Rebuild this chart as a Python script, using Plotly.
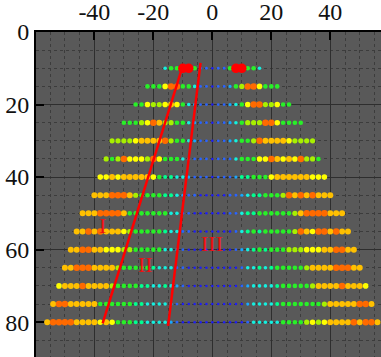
import plotly.graph_objects as go

# ---- data ----
ROW_Y = [10, 15, 20, 25, 30, 35, 40, 45, 50, 55, 60, 65, 70, 75, 80]
ROW_HALF_WIDTH = [16, 22, 26, 30, 34, 36, 38, 40, 44, 46, 48, 50, 52, 54, 56]
X_STEP = 2

# value level per point (0 = dark blue ... 10 = red), left to right
ROW_VALUES = [
    [3,5,5,10,10,5,1,1,0,1,1,5,10,10,5,5,3],
    [5,5,5,7,9,9,5,5,3,1,1,0,1,1,2,5,6,9,9,7,5,5,5],
    [5,5,7,6,6,7,8,7,5,3,2,1,1,0,1,1,2,3,5,7,9,9,6,6,7,5,5],
    [5,5,5,6,7,9,8,6,6,5,5,3,2,1,1,0,1,1,2,3,5,6,6,6,9,9,7,5,5,5,5],
    [6,6,6,6,7,8,8,8,8,9,6,5,5,3,2,1,1,0,1,1,2,3,5,5,6,9,8,8,8,8,7,6,6,6,6],
    [6,5,6,9,7,7,7,6,9,7,5,5,5,3,2,1,1,1,0,1,1,1,3,5,5,5,7,7,9,8,7,8,7,9,6,6,5],
    [7,7,8,7,8,8,8,8,8,7,5,4,4,3,3,2,1,1,1,0,1,1,1,2,4,4,5,5,5,7,8,8,8,8,8,8,7,7,7],
    [8,8,8,9,9,9,8,6,5,5,5,5,4,4,3,2,1,1,0,0,0,0,0,1,1,2,3,4,4,5,5,5,6,9,8,9,8,9,8,8,8],
    [8,8,8,9,9,9,9,8,5,5,5,5,5,5,5,3,3,1,1,0,0,0,0,0,0,1,1,3,4,4,5,5,5,5,5,5,6,8,9,9,9,9,8,8,8],
    [8,8,9,8,9,8,8,8,7,6,5,5,5,5,5,4,3,3,1,1,0,0,0,0,0,0,0,1,3,4,5,4,5,5,5,5,5,6,9,8,7,9,9,8,9,8,8],
    [8,8,9,9,8,8,7,7,7,6,6,5,5,5,5,5,3,3,2,1,0,0,0,0,0,0,0,0,1,2,3,4,5,4,5,5,5,6,6,6,7,7,7,8,8,9,9,8,8],
    [8,8,9,9,9,8,8,8,8,6,5,5,5,5,5,4,3,3,3,1,1,0,0,0,0,0,0,0,0,0,1,3,3,4,3,4,5,5,5,5,5,6,8,8,8,8,9,9,9,8,8],
    [7,8,8,8,9,8,8,8,8,6,5,5,5,5,4,4,3,3,4,3,2,1,0,0,0,0,0,0,0,0,0,1,2,3,3,3,3,4,5,5,5,5,5,6,8,8,8,8,9,8,8,8,7],
    [8,9,9,8,8,8,8,8,5,5,5,5,5,5,4,4,3,3,3,3,2,1,0,0,0,0,0,0,0,0,0,0,0,2,3,3,3,3,4,5,5,5,5,5,5,5,6,8,8,8,8,8,9,9,8],
    [8,9,9,9,9,8,8,8,8,7,8,7,5,5,5,4,4,3,3,3,3,2,1,0,0,0,0,0,0,0,0,0,0,0,1,3,3,3,3,3,5,5,5,5,6,7,6,7,8,8,8,8,9,8,9,9,8],
]

LINE_I_X = [-10.3, -37.2]
LINE_I_Y = [10, 80.3]
LINE_II_X = [-4.0, -15.0]
LINE_II_Y = [8.5, 81.0]

LABEL_TEXT = ["I", "II", "III"]
LABEL_X = [-37.2, -22.7, 0.0]
LABEL_Y = [53.4, 64.2, 58.2]

X_TICKS = [-40, -20, 0, 20, 40]
X_TICK_TEXT = ["-40", "-20", "0", "20", "40"]
Y_TICKS = [0, 20, 40, 60, 80]
Y_TICK_TEXT = ["0", "20", "40", "60", "80"]

# ---- styles ----
LEVEL_COLORS = ["#1e1ef5", "#2a64ff", "#18a8ff", "#14f0e0", "#00ff90", "#28f028",
                "#a8f000", "#ffff00", "#ffc000", "#ff6a00", "#ff0000"]
LEVEL_SIZES = [2.5, 2.8, 3.2, 3.6, 4.0, 4.6, 5.2, 5.6, 6.0, 6.5, 9.5]
SERIF = "Times New Roman, Liberation Serif, serif"

pts = []
for y, hw, vals in zip(ROW_Y, ROW_HALF_WIDTH, ROW_VALUES):
    xs = list(range(-hw, hw + 1, X_STEP))
    for x, v in zip(xs, vals):
        pts.append((v, x, y))
pts.sort(key=lambda p: p[0])

fig = go.Figure()
fig.add_trace(go.Scatter(
    x=[p[1] for p in pts], y=[p[2] for p in pts], mode="markers",
    marker=dict(color=[LEVEL_COLORS[p[0]] for p in pts],
                size=[LEVEL_SIZES[p[0]] for p in pts],
                opacity=1, line=dict(width=0)),
    hoverinfo="skip", showlegend=False))

for lx, ly in ((LINE_I_X, LINE_I_Y), (LINE_II_X, LINE_II_Y)):
    fig.add_trace(go.Scatter(x=lx, y=ly, mode="lines",
                             line=dict(color="#ff0000", width=2.5),
                             hoverinfo="skip", showlegend=False))

for t, x, y in zip(LABEL_TEXT, LABEL_X, LABEL_Y):
    fig.add_annotation(x=x, y=y, text=t, showarrow=False,
                       font=dict(family=SERIF, size=22, color="#ee1010"))

axis_font = dict(family=SERIF, size=24, color="#111111")
common = dict(ticks="inside", ticklen=8, tickwidth=2, tickcolor="black",
              showline=True, linecolor="black", linewidth=2,
              showgrid=True, gridcolor="#2e2e2e", gridwidth=1,
              zeroline=False, tickfont=axis_font,
              minor=dict(dtick=5, showgrid=True, gridcolor="#3c3c3c",
                         griddash="dot", gridwidth=1))
fig.update_layout(
    width=381, height=357,
    margin=dict(l=36, r=0, t=32, b=0),
    paper_bgcolor="white", plot_bgcolor="#595959",
    xaxis=dict(side="top", range=[-59.8, 57.2], tickvals=X_TICKS,
               ticktext=X_TICK_TEXT, **common),
    yaxis=dict(range=[89.6, 0], tickvals=Y_TICKS, ticktext=Y_TICK_TEXT, **common),
)

fig.write_html("out.html")
